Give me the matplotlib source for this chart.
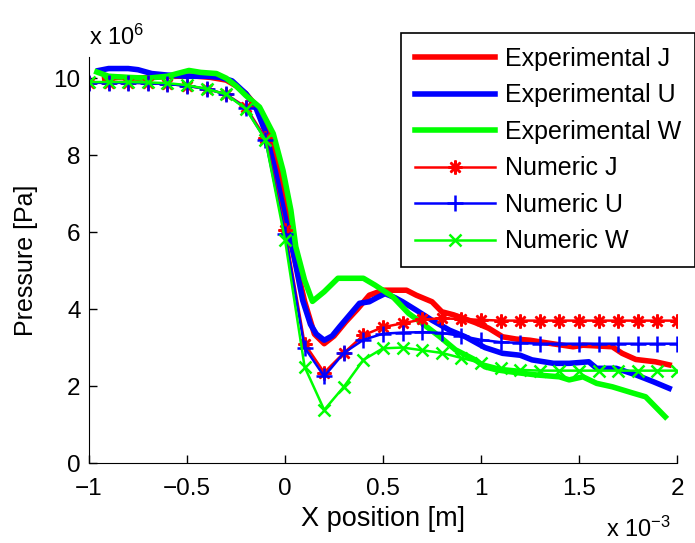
import matplotlib
matplotlib.use('Agg')
import matplotlib.pyplot as plt

plt.rcParams['font.family'] = ['Liberation Sans', 'DejaVu Sans']
plt.rcParams['mathtext.fontset'] = 'custom'
plt.rcParams['mathtext.rm'] = 'Liberation Sans'
plt.rcParams['mathtext.default'] = 'regular'

# numeric solutions (x in 1e-3 m, pressure in 1e6 Pa)
num_x = [-1.0, -0.9, -0.8, -0.7, -0.6, -0.5, -0.4, -0.3, -0.2, -0.1, 0.0,
         0.1, 0.2, 0.3, 0.4, 0.5, 0.6, 0.7, 0.8, 0.9, 1.0,
         1.1, 1.2, 1.3, 1.4, 1.5, 1.6, 1.7, 1.8, 1.9, 2.0]
num_J = [9.88, 9.88, 9.88, 9.87, 9.85, 9.8, 9.72, 9.58, 9.25, 8.45, 6.05,
         3.1, 2.35, 2.86, 3.32, 3.53, 3.63, 3.73, 3.76, 3.74, 3.72,
         3.7, 3.7, 3.7, 3.7, 3.7, 3.7, 3.7, 3.7, 3.7, 3.7]
num_U = [9.88, 9.88, 9.88, 9.87, 9.85, 9.8, 9.72, 9.58, 9.22, 8.4, 5.95,
         3.0, 2.25, 2.86, 3.2, 3.36, 3.39, 3.4, 3.38, 3.3, 3.2,
         3.14, 3.12, 3.1, 3.1, 3.1, 3.1, 3.1, 3.1, 3.1, 3.1]
num_W = [9.9, 9.9, 9.9, 9.89, 9.87, 9.82, 9.72, 9.58, 9.2, 8.4, 5.8,
         2.5, 1.38, 1.98, 2.68, 2.98, 3.0, 2.93, 2.86, 2.73, 2.6,
         2.47, 2.42, 2.4, 2.4, 2.4, 2.4, 2.4, 2.4, 2.4, 2.4]

# experimental measurements
exp_x_J = [-0.92, -0.85, -0.75, -0.65, -0.55, -0.45, -0.38, -0.3, -0.25, -0.2,
           -0.15, -0.1, -0.05, 0.0, 0.05, 0.1, 0.15, 0.2, 0.25, 0.31,
           0.37, 0.43, 0.5, 0.56, 0.62, 0.67, 0.75, 0.8, 0.86, 0.91,
           0.97, 1.04, 1.11, 1.18, 1.25, 1.35, 1.47, 1.52, 1.6, 1.67,
           1.72, 1.79, 1.89, 1.96]
exp_J = [9.98, 10.02, 10.0, 10.03, 10.05, 10.05, 10.02, 9.95, 9.8, 9.6,
         9.3, 8.75, 8.1, 6.7, 5.3, 4.2, 3.35, 3.1, 3.3, 3.67,
         4.0, 4.36, 4.49, 4.49, 4.49, 4.36, 4.19, 3.93, 3.85, 3.76,
         3.65, 3.5, 3.28, 3.22, 3.19, 3.11, 3.02, 3.06, 3.04, 3.02,
         2.85, 2.69, 2.63, 2.55]

exp_x_U = [-0.95, -0.9, -0.8, -0.75, -0.68, -0.6, -0.5, -0.4, -0.33, -0.27,
           -0.2, -0.15, -0.1, -0.05, 0.0, 0.05, 0.09, 0.13, 0.16, 0.2,
           0.24, 0.28, 0.33, 0.38, 0.43, 0.47, 0.51, 0.56, 0.6, 0.67,
           0.75, 0.84, 0.92, 1.02, 1.11, 1.2, 1.26, 1.37, 1.45, 1.55,
           1.59, 1.69, 1.79, 1.88, 1.96]
exp_U = [10.2, 10.25, 10.25, 10.22, 10.12, 10.08, 10.05, 10.05, 10.02, 9.93,
         9.6, 9.25, 8.6, 7.6, 6.4, 5.27, 4.23, 3.6, 3.35, 3.19,
         3.3, 3.55, 3.85, 4.15, 4.19, 4.3, 4.4, 4.3, 4.19, 3.97,
         3.71, 3.45, 3.28, 3.0, 2.85, 2.8, 2.68, 2.59, 2.59, 2.63,
         2.46, 2.46, 2.29, 2.11, 1.94]

exp_x_W = [-0.96, -0.9, -0.8, -0.7, -0.6, -0.55, -0.49, -0.43, -0.35, -0.3,
           -0.25, -0.2, -0.13, -0.06, -0.01, 0.03, 0.055, 0.1, 0.14, 0.2,
           0.27, 0.4, 0.46, 0.55, 0.63, 0.7, 0.79, 0.87, 0.97, 1.02,
           1.08, 1.18, 1.28, 1.4, 1.45, 1.52, 1.59, 1.67, 1.78, 1.84,
           1.89, 1.94]
exp_W = [10.16, 10.05, 10.02, 10.0, 10.05, 10.12, 10.2, 10.15, 10.12, 10.0,
         9.8, 9.55, 9.25, 8.56, 7.6, 6.57, 5.62, 4.75, 4.2, 4.45,
         4.8, 4.8, 4.62, 4.32, 3.89, 3.63, 3.28, 2.94, 2.68, 2.5,
         2.42, 2.35, 2.29, 2.24, 2.16, 2.24, 2.07, 1.98, 1.81, 1.72,
         1.46, 1.2]

fig = plt.figure(figsize=(6.95, 5.43), dpi=100)
ax = fig.add_axes([89/695, 80/543, 588/695, 406/543])

ax.plot(exp_x_J, exp_J, color='#ff0000', lw=4, label='Experimental J')
ax.plot(exp_x_U, exp_U, color='#0000ff', lw=4, label='Experimental U')
ax.plot(exp_x_W, exp_W, color='#00ff00', lw=4, label='Experimental W')
ax.plot(num_x, num_J, color='#ff0000', lw=1.8, marker=(8, 2, 0), ms=10, mew=1.8,
        label='Numeric J')
ax.plot(num_x, num_U, color='#0000ff', lw=1.8, marker='+', ms=12, mew=1.8,
        label='Numeric U')
ax.plot(num_x, num_W, color='#00ff00', lw=1.8, marker='x', ms=8.5, mew=1.8,
        label='Numeric W')

ax.set_xlim(-1, 2)
ax.set_ylim(0, 10.55)
ax.set_xticks([-1, -0.5, 0, 0.5, 1, 1.5, 2])
ax.set_xticklabels(['\u22121', '\u22120.5', '0', '0.5', '1', '1.5', '2'])
ax.set_yticks([0, 2, 4, 6, 8, 10])
ax.spines['top'].set_visible(False)
ax.spines['right'].set_visible(False)
ax.tick_params(direction='in', length=6, width=1, labelsize=17.5)
ax.tick_params(axis='x', pad=11)
ax.tick_params(axis='y', pad=6)
ax.set_xlabel('X position [m]', fontsize=19.5, labelpad=4)
ax.set_ylabel('Pressure [Pa]', fontsize=18, labelpad=11)

fig.text(89/695, 1 - 45/543, 'x 10$^{6}$', fontsize=17, ha='left', va='baseline')
fig.text(606/695, 1 - 537/543, 'x 10$^{\u22123}$', fontsize=17, ha='left', va='baseline')

leg = ax.legend(loc='upper left', bbox_to_anchor=(401/695, 1 - 33/543),
                bbox_transform=fig.transFigure, fontsize=18, frameon=True,
                fancybox=False, edgecolor='black', framealpha=1,
                handlelength=3.2, handletextpad=0.4, labelspacing=0.5,
                borderpad=0.55, borderaxespad=0)
leg.get_frame().set_linewidth(1.2)

fig.savefig('out.png', dpi=100)
